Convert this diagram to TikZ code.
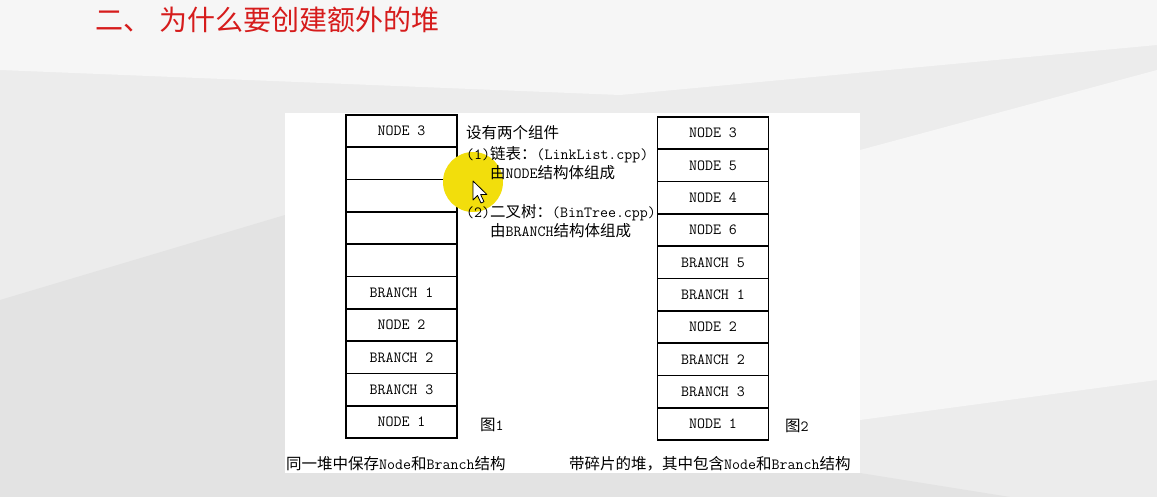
\documentclass[tikz,border=0pt]{standalone}
\usepackage{fontspec}
\usepackage{tikz}
\usetikzlibrary{positioning}
\newfontfamily\cjk{Noto Sans CJK SC}
\newcommand{\zh}[1]{{\cjk #1}}
\definecolor{titlered}{RGB}{214,28,28}
\definecolor{hilite}{RGB}{242,222,12}
\definecolor{bgbase}{RGB}{236,236,236}
\definecolor{bglight}{RGB}{246,246,246}
\definecolor{bgdark}{RGB}{227,227,227}
\tikzset{
  cell/.style={draw, line width=1.6pt, outer sep=0pt, inner sep=0pt,
    minimum width=111pt, minimum height=32.3pt,
    font=\ttfamily\fontsize{15.5}{16}\selectfont},
  note/.style={anchor=west, inner sep=0pt,
    font=\ttfamily\fontsize{15.5}{17}\selectfont},
}
\begin{document}
\begin{tikzpicture}[x=1pt,y=-1pt]

        % background
            \useasboundingbox (0,0) rectangle (1157,497);
            \fill[bgbase] (0,0) rectangle (1157,497);
            \fill[bglight] (0,0) -- (1157,0) -- (1157,45) -- (620,95) -- (0,70) -- cycle;
            \fill[bgdark] (0,300) -- (285,215) -- (285,497) -- (0,497) -- cycle;
            \fill[bglight] (860,150) -- (1157,70) -- (1157,380) -- (860,420) -- cycle;
            \fill[bgdark] (285,473) -- (860,473) -- (1010,497) -- (160,497) -- cycle;
            \fill[white] (285,113) rectangle (860,473);

        % title
            \node[anchor=west, inner sep=0pt, text=titlered,
                  font=\cjk\fontsize{28}{28}\selectfont] (title) at (95,20)
                  {二、\hspace{8pt}为什么要创建额外的堆};

        % heap 1
            \foreach \lab [count=\i] in {{NODE 3},{},{},{},{},{BRANCH 1},{NODE 2},{BRANCH 2},{BRANCH 3},{NODE 1}}
                \node[cell] (l\i) at (401.5,98.85+32.3*\i) {\lab};
            \node[note] (fig1) at (480,425) {\zh{图}1};

        % heap 2
            \foreach \lab [count=\i] in {{NODE 3},{NODE 5},{NODE 4},{NODE 6},{BRANCH 5},{BRANCH 1},{NODE 2},{BRANCH 2},{BRANCH 3},{NODE 1}}
                \node[cell] (r\i) at (713,100.85+32.3*\i) {\lab};
            \node[note] (fig2) at (785,426) {\zh{图}2};

        % pointer highlight
            \fill[hilite] (473,182) circle (30);

        % components
            \node[note] (comp) at (466,133) {\zh{设有两个组件}};
            \node[note] (list) at (466,155) {(1)\zh{链表：}(LinkList.cpp)};
            \node[note] (listnode) at (490,173) {\zh{由}NODE\zh{结构体组成}};
            \node[note] (tree) at (466,213) {(2)\zh{二叉树：}(BinTree.cpp)};
            \node[note] (treenode) at (490,231) {\zh{由}BRANCH\zh{结构体组成}};

        % cursor
            \draw[fill=white, line width=0.8pt, line join=round] (473,181) -- ++(0,19) -- ++(4.5,-4.5)
                -- ++(3.5,7.5) -- ++(3,-1.3) -- ++(-3.4,-7.2) -- ++(6.3,0) -- cycle;

        % captions
            \node[note] (cap1) at (286,464) {\zh{同一堆中保存}Node\zh{和}Branch\zh{结构}};
            \node[note] (cap2) at (569,464) {\zh{带碎片的堆，其中包含}Node\zh{和}Branch\zh{结构}};

        \end{tikzpicture}
\end{document}
